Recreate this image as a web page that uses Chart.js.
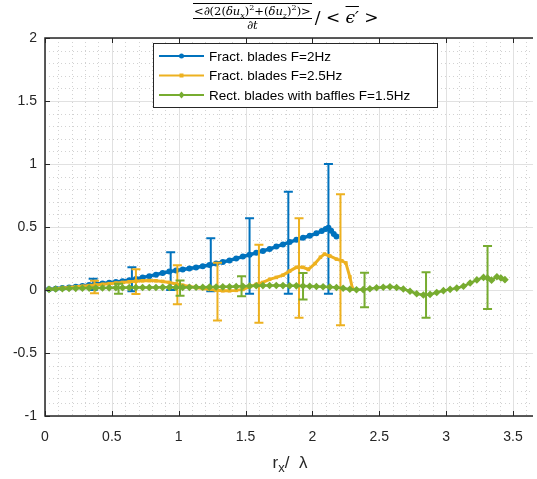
<!DOCTYPE html>
<html lang="en">
<head>
  <meta charset="UTF-8" />
  <title>Structure function budget</title>
  <script src="https://cdn.jsdelivr.net/npm/chart.js"></script>
  <style>
    body {
      margin: 0;
      background: #fff;
    }

    .wrap {
      position: relative;
      width: 537px;
      height: 479px;
      overflow: hidden;
    }

    canvas {
      position: absolute;
      left: 0;
      top: 0;
    }

    .title {
      position: absolute;
      left: 193px;
      top: 3px;
      font-family: 'DejaVu Serif', serif;
      color: #000;
      white-space: nowrap;
    }

    .frac {
      display: inline-block;
      vertical-align: middle;
      text-align: center;
    }

    .num {
      display: block;
      font-size: 11.5px;
      line-height: 12px;
      border-top: 1px solid #000;
      border-bottom: 1px solid #000;
      padding: 1px 1px 1px;
    }

    .den {
      display: block;
      font-size: 11.5px;
      line-height: 12px;
    }

    .rest {
      font-size: 17px;
      vertical-align: middle;
      margin-left: 3px;
    }

    .ov {
      text-decoration: overline;
      font-style: italic;
    }

    i { font-style: italic; }
    sub, sup { font-size: 8px; line-height: 0; }

    .xlabel {
      position: absolute;
      left: 0;
      width: 580px;
      top: 453px;
      text-align: center;
      font-family: 'Liberation Sans', Arial, sans-serif;
      font-size: 17px;
      color: #262626;
    }

    .xlabel sub { font-size: 13px; }
  </style>
</head>
<body>
  <div class="wrap">
    <canvas id="chart" width="537" height="479"></canvas>
    <div class="title">
      <span class="frac">
        <span class="num">&lt;<i>∂</i>(2(<i>δu</i><sub><i>x</i></sub>)<sup>2</sup>+(<i>δu</i><sub><i>z</i></sub>)<sup>2</sup>)&gt;</span>
        <span class="den"><i>∂t</i></span>
      </span><span class="rest">/ &lt; <span class="ov">ϵ′</span> &gt;</span>
    </div>
    <div class="xlabel">r<sub>x</sub>/ &nbsp;λ</div>
  </div>

  <script>
  // series
  const blueX = [0.03, 0.08, 0.13, 0.18, 0.23, 0.28, 0.33, 0.38, 0.43, 0.48, 0.53, 0.58, 0.63, 0.68, 0.73, 0.78,
    0.83, 0.88, 0.93, 0.98, 1.03, 1.08, 1.13, 1.18, 1.23, 1.28, 1.33, 1.38, 1.43, 1.48, 1.53, 1.58, 1.63, 1.68,
    1.73, 1.78, 1.83, 1.88, 1.93, 1.98, 2.03, 2.07, 2.10, 2.12, 2.14, 2.16, 2.18];
  const blueY = [0.005, 0.01, 0.015, 0.02, 0.026, 0.032, 0.04, 0.047, 0.052, 0.058, 0.064, 0.07, 0.078, 0.088, 0.1, 0.11,
    0.122, 0.135, 0.146, 0.155, 0.163, 0.17, 0.178, 0.188, 0.198, 0.21, 0.222, 0.235, 0.25, 0.265, 0.28, 0.295, 0.31, 0.325,
    0.345, 0.362, 0.38, 0.398, 0.415, 0.43, 0.45, 0.468, 0.485, 0.495, 0.47, 0.445, 0.425];

  const orangeX = [0.03, 0.08, 0.13, 0.18, 0.23, 0.28, 0.33, 0.38, 0.43, 0.48, 0.53, 0.58, 0.63, 0.68, 0.73, 0.78,
    0.83, 0.88, 0.93, 0.98, 1.03, 1.08, 1.13, 1.18, 1.23, 1.28, 1.33, 1.38, 1.43, 1.48, 1.53, 1.58, 1.63, 1.68,
    1.73, 1.78, 1.83, 1.88, 1.93, 1.97, 2.02, 2.06, 2.09, 2.13, 2.18, 2.22, 2.25, 2.28, 2.30];
  const orangeY = [0.005, 0.01, 0.015, 0.02, 0.025, 0.03, 0.035, 0.04, 0.045, 0.05, 0.055, 0.06, 0.065, 0.07, 0.073, 0.075,
    0.073, 0.068, 0.06, 0.048, 0.038, 0.028, 0.02, 0.012, 0.005, -0.002, -0.006, -0.006, -0.003, 0.005, 0.025, 0.045, 0.06, 0.085,
    0.1, 0.118, 0.15, 0.18, 0.18, 0.163, 0.21, 0.26, 0.285, 0.27, 0.245, 0.232, 0.215, 0.105, 0.01];

  const greenX = [0.03, 0.08, 0.13, 0.18, 0.23, 0.28, 0.33, 0.38, 0.43, 0.48, 0.53, 0.58, 0.63, 0.68, 0.73, 0.78,
    0.83, 0.88, 0.93, 0.98, 1.03, 1.08, 1.13, 1.18, 1.23, 1.28, 1.33, 1.38, 1.43, 1.48, 1.53, 1.58, 1.63, 1.68,
    1.73, 1.78, 1.83, 1.88, 1.93, 1.98, 2.03, 2.08, 2.13, 2.18, 2.23, 2.28, 2.33, 2.38, 2.43, 2.48, 2.53, 2.58,
    2.63, 2.68, 2.73, 2.78, 2.83, 2.88, 2.93, 2.98, 3.03, 3.08, 3.13, 3.18, 3.23, 3.28, 3.31, 3.34, 3.38, 3.41, 3.44];
  const greenY = [0.005, 0.008, 0.01, 0.012, 0.013, 0.014, 0.015, 0.016, 0.016, 0.017, 0.018, 0.018, 0.019, 0.02, 0.02, 0.02,
    0.02, 0.021, 0.021, 0.02, 0.02, 0.021, 0.022, 0.022, 0.023, 0.024, 0.025, 0.026, 0.028, 0.03, 0.032, 0.034, 0.035, 0.036,
    0.036, 0.035, 0.034, 0.033, 0.032, 0.03, 0.028, 0.026, 0.024, 0.02, 0.014, 0.006, 0.002, 0.003, 0.01, 0.018, 0.022, 0.025,
    0.02, 0.008, -0.01, -0.03, -0.04, -0.035, -0.02, -0.005, 0.005, 0.015, 0.03, 0.055, 0.08, 0.1, 0.095, 0.078, 0.105, 0.095, 0.082];

  // error bars: position, centre, half length
  const blueErrX = [0.36, 0.65, 0.94, 1.24, 1.53, 1.82, 2.12];
  const blueErrY = [0.045, 0.085, 0.15, 0.2, 0.27, 0.375, 0.485];
  const blueErrD = [0.045, 0.095, 0.15, 0.21, 0.30, 0.405, 0.515];

  const orangeErrX = [0.37, 0.68, 0.99, 1.29, 1.6, 1.9, 2.21];
  const orangeErrY = [0.024, 0.066, 0.042, -0.013, 0.05, 0.175, 0.24];
  const orangeErrD = [0.05, 0.098, 0.155, 0.23, 0.31, 0.395, 0.52];

  const greenErrX = [0.55, 1.01, 1.47, 1.93, 2.39, 2.85, 3.31];
  const greenErrY = [0.01, 0.015, 0.03, 0.03, 0.0, -0.04, 0.1];
  const greenErrD = [0.04, 0.06, 0.08, 0.105, 0.137, 0.18, 0.25];

  const seriesNames = ['Fract. blades F=2Hz', 'Fract. blades F=2.5Hz', 'Rect. blades with baffles F=1.5Hz'];
  const seriesColors = ['#0072BD', '#EDB120', '#77AC30'];
  const seriesMarkers = ['circle', 'rect', 'rectRot'];
  const xTicks = [0, 0.5, 1, 1.5, 2, 2.5, 3, 3.5];
  const yTicks = [-1, -0.5, 0, 0.5, 1, 1.5, 2];

  const errBars = [
    { x: blueErrX, y: blueErrY, d: blueErrD },
    { x: orangeErrX, y: orangeErrY, d: orangeErrD },
    { x: greenErrX, y: greenErrY, d: greenErrD }
  ];

  const pts = (xs, ys) => xs.map((x, i) => ({ x: x, y: ys[i] }));

  const AXIS = '#262626';

  // MATLAB style grid: light solid majors, dotted minors
  const gridPlugin = {
    id: 'matlabGrid',
    beforeDatasetsDraw(chart) {
      const { ctx, chartArea: a, scales: { x, y } } = chart;
      ctx.save();
      ctx.lineWidth = 1;
      ctx.strokeStyle = '#d2d2d2';
      ctx.setLineDash([1, 3]);
      for (let v = 0.1; v < x.max; v += 0.1) {
        if (Math.abs(v * 2 - Math.round(v * 2)) < 1e-6) continue;
        const px = Math.round(x.getPixelForValue(v)) + 0.5;
        ctx.beginPath(); ctx.moveTo(px, a.top); ctx.lineTo(px, a.bottom); ctx.stroke();
      }
      for (let v = -0.9; v < 2; v += 0.1) {
        if (Math.abs(v * 2 - Math.round(v * 2)) < 1e-6) continue;
        const py = Math.round(y.getPixelForValue(v)) + 0.5;
        ctx.beginPath(); ctx.moveTo(a.left, py); ctx.lineTo(a.right, py); ctx.stroke();
      }
      ctx.setLineDash([]);
      ctx.strokeStyle = '#e1e1e1';
      xTicks.forEach(v => {
        const px = Math.round(x.getPixelForValue(v)) + 0.5;
        ctx.beginPath(); ctx.moveTo(px, a.top); ctx.lineTo(px, a.bottom); ctx.stroke();
      });
      yTicks.forEach(v => {
        const py = Math.round(y.getPixelForValue(v)) + 0.5;
        ctx.beginPath(); ctx.moveTo(a.left, py); ctx.lineTo(a.right, py); ctx.stroke();
      });
      ctx.restore();
    },
    afterDatasetDraw(chart, args) {
      const eb = errBars[args.index];
      if (!eb) return;
      const { ctx, scales: { x, y } } = chart;
      ctx.save();
      ctx.strokeStyle = seriesColors[args.index];
      ctx.lineWidth = 2;
      eb.x.forEach((xv, i) => {
        const px = x.getPixelForValue(xv);
        const top = y.getPixelForValue(eb.y[i] + eb.d[i]);
        const bot = y.getPixelForValue(eb.y[i] - eb.d[i]);
        ctx.beginPath();
        ctx.moveTo(px, top); ctx.lineTo(px, bot);
        ctx.moveTo(px - 4.5, top); ctx.lineTo(px + 4.5, top);
        ctx.moveTo(px - 4.5, bot); ctx.lineTo(px + 4.5, bot);
        ctx.stroke();
      });
      ctx.restore();
    },
    afterDraw(chart) {
      const { ctx, chartArea: a, scales: { x, y } } = chart;
      ctx.save();
      // axes box (right side is cut off in the figure)
      ctx.strokeStyle = AXIS;
      ctx.lineWidth = 1.5;
      ctx.beginPath();
      ctx.moveTo(a.right, a.top); ctx.lineTo(a.left, a.top);
      ctx.lineTo(a.left, a.bottom); ctx.lineTo(a.right, a.bottom);
      ctx.stroke();
      ctx.lineWidth = 1;
      xTicks.forEach(v => {
        const px = Math.round(x.getPixelForValue(v)) + 0.5;
        ctx.beginPath();
        ctx.moveTo(px, a.bottom); ctx.lineTo(px, a.bottom - 5);
        ctx.moveTo(px, a.top); ctx.lineTo(px, a.top + 5);
        ctx.stroke();
      });
      yTicks.forEach(v => {
        const py = Math.round(y.getPixelForValue(v)) + 0.5;
        ctx.beginPath(); ctx.moveTo(a.left, py); ctx.lineTo(a.left + 5, py); ctx.stroke();
      });

      // legend
      const lx = 153, ly = 43, lw = 284, lh = 64;
      ctx.fillStyle = '#fff';
      ctx.fillRect(lx, ly, lw, lh);
      ctx.strokeStyle = AXIS;
      ctx.lineWidth = 1;
      ctx.strokeRect(lx + 0.5, ly + 0.5, lw, lh);
      ctx.font = '13.5px "Liberation Sans", Arial, sans-serif';
      ctx.textBaseline = 'middle';
      seriesNames.forEach((name, i) => {
        const ry = ly + 13 + i * 19.5;
        ctx.strokeStyle = seriesColors[i];
        ctx.lineWidth = 2;
        ctx.beginPath(); ctx.moveTo(159, ry); ctx.lineTo(204, ry); ctx.stroke();
        ctx.fillStyle = seriesColors[i];
        ctx.beginPath();
        if (i === 0) ctx.arc(181.5, ry, 2.5, 0, Math.PI * 2);
        else if (i === 1) ctx.rect(179.5, ry - 2, 4, 4);
        else { ctx.moveTo(181.5, ry - 3.5); ctx.lineTo(184.5, ry); ctx.lineTo(181.5, ry + 3.5); ctx.lineTo(178.5, ry); ctx.closePath(); }
        ctx.fill();
        ctx.fillStyle = '#000';
        ctx.fillText(name, 209, ry + 1);
      });
      ctx.restore();
    }
  };

  const makeSet = (i, xs, ys, w, r, order) => ({
    label: seriesNames[i],
    data: pts(xs, ys),
    borderColor: seriesColors[i],
    backgroundColor: seriesColors[i],
    borderWidth: w,
    pointStyle: seriesMarkers[i],
    pointRadius: r,
    pointBorderWidth: 0,
    tension: 0,
    order: order
  });

  new Chart(document.getElementById('chart'), {
    type: 'line',
    data: {
      datasets: [
        makeSet(0, blueX, blueY, 3.5, 3, 3),
        makeSet(1, orangeX, orangeY, 3, 2.5, 2),
        makeSet(2, greenX, greenY, 2.5, 3.8, 1)
      ]
    },
    options: {
      responsive: false,
      animation: false,
      devicePixelRatio: 1,
      layout: { padding: { top: 38, right: 0, left: 0, bottom: 0 } },
      plugins: {
        legend: { display: false },
        tooltip: { enabled: false }
      },
      scales: {
        x: {
          type: 'linear',
          min: 0,
          max: 3.65,
          afterFit: s => { s.height = 63; },
          afterBuildTicks: s => { s.ticks = xTicks.map(v => ({ value: v })); },
          grid: { display: false, drawTicks: false },
          border: { display: false },
          ticks: {
            padding: 13,
            color: AXIS,
            font: { family: '"Liberation Sans", Arial, sans-serif', size: 14 },
            callback: v => String(v)
          }
        },
        y: {
          min: -1,
          max: 2,
          afterFit: s => { s.width = 45; },
          afterBuildTicks: s => { s.ticks = yTicks.map(v => ({ value: v })); },
          grid: { display: false, drawTicks: false },
          border: { display: false },
          ticks: {
            padding: 8,
            color: AXIS,
            font: { family: '"Liberation Sans", Arial, sans-serif', size: 14 },
            callback: v => String(v)
          }
        }
      }
    },
    plugins: [gridPlugin]
  });
  </script>
</body>
</html>
